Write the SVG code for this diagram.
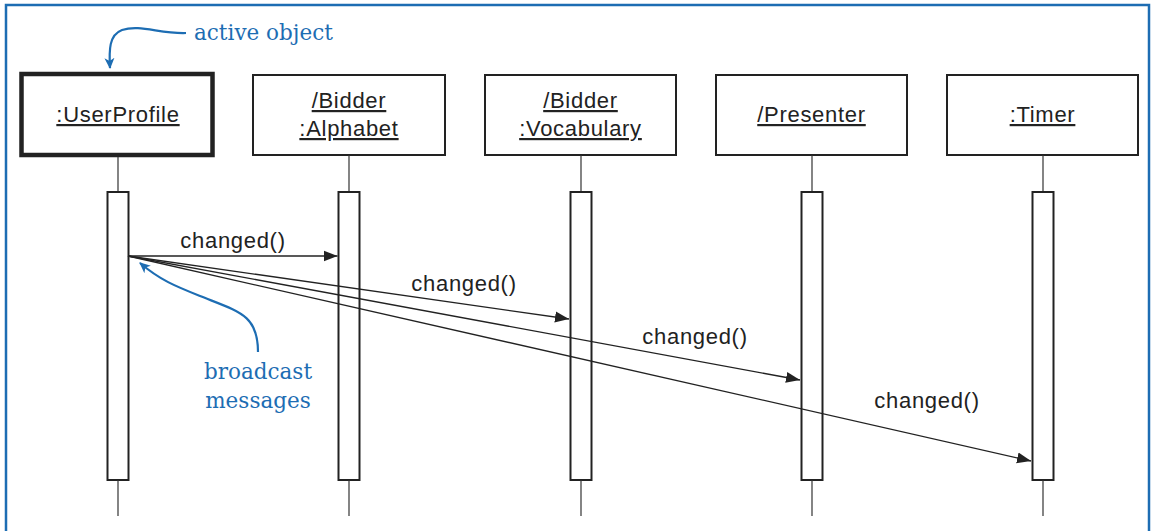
<svg xmlns="http://www.w3.org/2000/svg" width="1155" height="531" viewBox="0 0 1155 531">
<defs>
<style>
.frame{fill:none;stroke:#1d6db3;stroke-width:2.5}
.box{fill:#fff;stroke:#222;stroke-width:2}
.active{fill:#fff;stroke:#222;stroke-width:4.5}
.bar{fill:#fff;stroke:#222;stroke-width:2}
.life{stroke:#333;stroke-width:1.2;fill:none}
.msg{stroke:#222;stroke-width:1.3;fill:none;marker-end:url(#arr)}
.lbl{font-family:"Liberation Sans",Arial,sans-serif;font-size:22px;fill:#222;text-anchor:middle;letter-spacing:0.7px}
.name{font-family:"Liberation Sans",Arial,sans-serif;font-size:22px;fill:#222;text-anchor:middle;letter-spacing:0.7px;text-decoration:underline}
.note{font-family:"DejaVu Serif","Liberation Serif",serif;font-size:21.5px;fill:#1d6db3}
.notepath{fill:none;stroke:#1d6db3;stroke-width:2.2;marker-end:url(#barr)}
</style>
<marker id="arr" markerUnits="userSpaceOnUse" markerWidth="15" markerHeight="12" refX="14" refY="5.5" orient="auto" viewBox="0 0 15 11">
<path d="M0,0 L14,5.5 L0,11 z" fill="#222"/>
</marker>
<marker id="barr" markerUnits="userSpaceOnUse" markerWidth="12" markerHeight="12" refX="10" refY="5" orient="auto" viewBox="0 0 12 10">
<path d="M0,0 L11,5 L0,10 L3,5 z" fill="#1d6db3"/>
</marker>
</defs>
<rect class="frame" x="6" y="5" width="1143" height="540"/>

<g id="userprofile">
<rect class="active" x="21.5" y="74" width="191" height="81"/>
<text class="name" x="118" y="122">:UserProfile</text>
<line class="life" x1="118" y1="157" x2="118" y2="192"/>
<rect class="bar" x="107.5" y="192" width="21" height="288"/>
<line class="life" x1="118" y1="480" x2="118" y2="516"/>
</g>

<g id="alphabet">
<rect class="box" x="253" y="75" width="192" height="80"/>
<text class="name" x="349" y="108">/Bidder</text>
<text class="name" x="349" y="136">:Alphabet</text>
<line class="life" x1="349" y1="155" x2="349" y2="192"/>
<rect class="bar" x="338.5" y="192" width="21" height="288"/>
<line class="life" x1="349" y1="480" x2="349" y2="516"/>
</g>

<g id="vocabulary">
<rect class="box" x="485" y="75" width="191" height="80"/>
<text class="name" x="580.5" y="108">/Bidder</text>
<text class="name" x="580.5" y="136">:Vocabulary</text>
<line class="life" x1="581" y1="155" x2="581" y2="192"/>
<rect class="bar" x="570.5" y="192" width="21" height="288"/>
<line class="life" x1="581" y1="480" x2="581" y2="516"/>
</g>

<g id="presenter">
<rect class="box" x="716" y="75" width="191" height="80"/>
<text class="name" x="811.5" y="122">/Presenter</text>
<line class="life" x1="812" y1="155" x2="812" y2="192"/>
<rect class="bar" x="801.5" y="192" width="21" height="288"/>
<line class="life" x1="812" y1="480" x2="812" y2="516"/>
</g>

<g id="timer">
<rect class="box" x="947" y="75" width="191" height="80"/>
<text class="name" x="1042.5" y="122">:Timer</text>
<line class="life" x1="1043" y1="155" x2="1043" y2="192"/>
<rect class="bar" x="1032.5" y="192" width="21" height="288"/>
<line class="life" x1="1043" y1="480" x2="1043" y2="516"/>
</g>

<g id="connectors">
<line class="msg" x1="128" y1="256" x2="337.5" y2="256"/>
<line class="msg" x1="128" y1="256" x2="569" y2="319"/>
<line class="msg" x1="128" y1="256" x2="800" y2="380"/>
<line class="msg" x1="128" y1="256" x2="1031" y2="461"/>
<text class="lbl" x="233" y="248">changed()</text>
<text class="lbl" x="464" y="291">changed()</text>
<text class="lbl" x="695" y="344">changed()</text>
<text class="lbl" x="927" y="408">changed()</text>
</g>

<g id="note-active">
<path class="notepath" d="M186,33 C160,34 140,24 122,30 C109,35 109,50 110,68"/>
<text class="note" x="194" y="40">active object</text>
</g>

<g id="note-broadcast">
<path class="notepath" d="M258,352 C258,315 240,312 200,296 C175,286 160,280 140,263"/>
<text class="note" x="258" y="379" text-anchor="middle">broadcast</text>
<text class="note" x="258" y="408" text-anchor="middle">messages</text>
</g>
</svg>
